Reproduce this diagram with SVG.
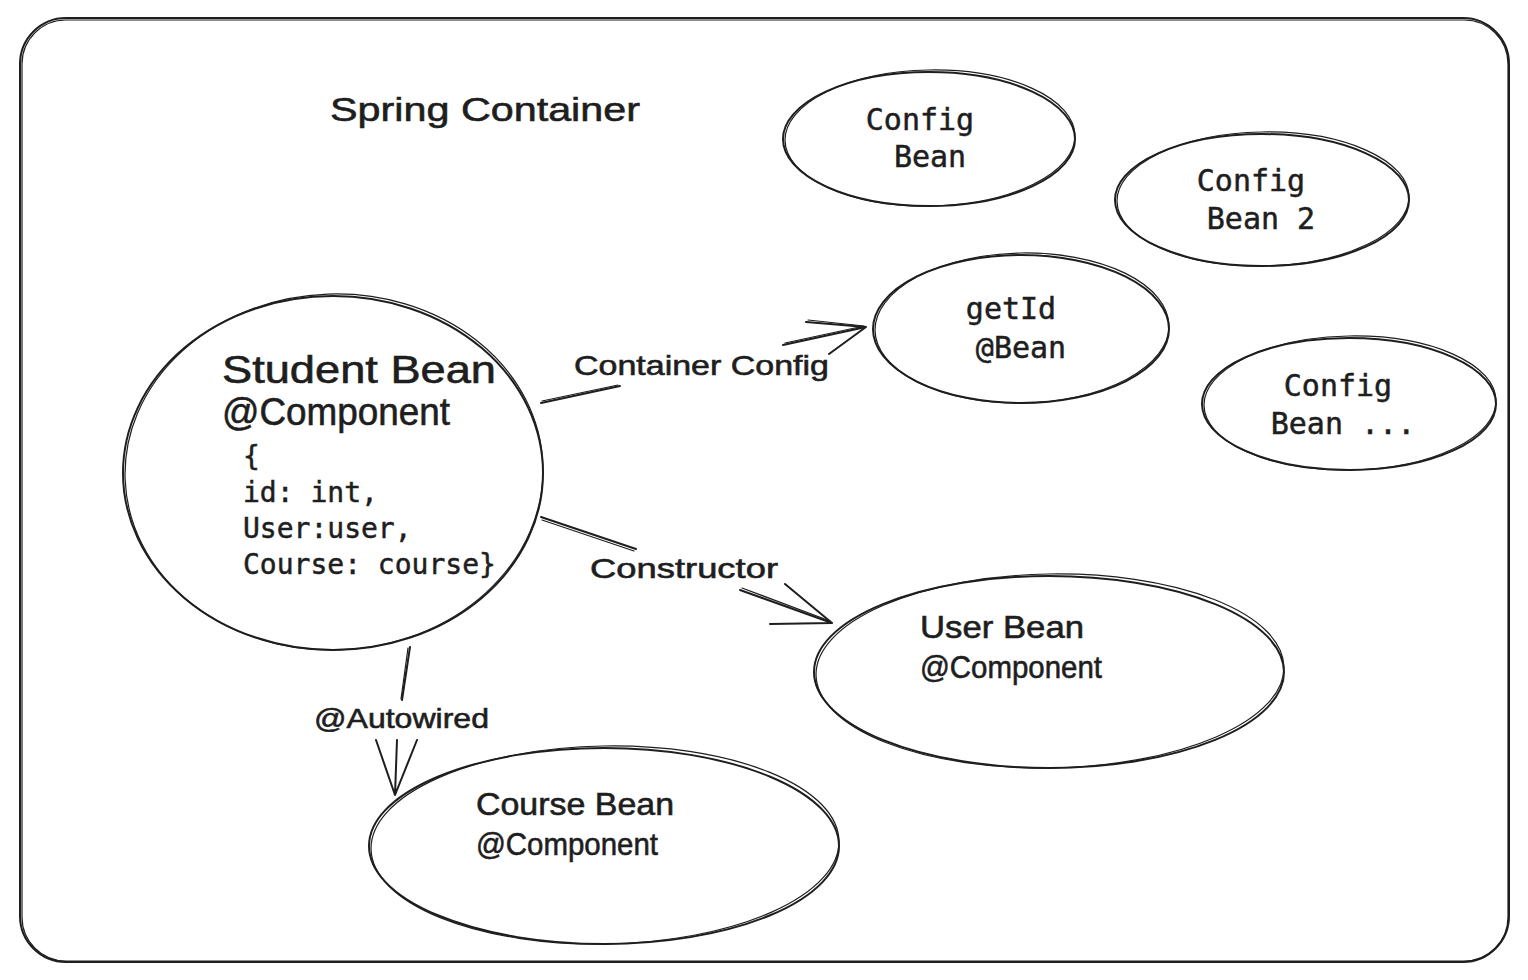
<svg xmlns="http://www.w3.org/2000/svg" width="1528" height="980" viewBox="0 0 1528 980">
<style>
.s{fill:none;stroke:#1e1e1e;stroke-width:2;stroke-linecap:round;stroke-linejoin:round}
.t{stroke-width:1.2}
.h{font-family:"Liberation Sans","DejaVu Sans",sans-serif;fill:#1e1e1e;stroke:#1e1e1e;stroke-width:0.6}
.m{font-family:"DejaVu Sans Mono","Liberation Mono",monospace;fill:#1e1e1e;stroke:#1e1e1e;stroke-width:0.5}
</style>
<rect width="1528" height="980" fill="#ffffff"/>
<g id="container">
<rect class="s" x="20" y="18" width="1489" height="944" rx="46" ry="46"/>
<rect class="s t" x="22" y="20" width="1486" height="941" rx="44" ry="44"/>
<text class="h" x="330" y="121" font-size="34" textLength="310" lengthAdjust="spacingAndGlyphs">Spring Container</text>
</g>
<g id="config-bean">
<ellipse class="s" cx="929" cy="139" rx="146" ry="67"/>
<ellipse class="s t" cx="930" cy="138" rx="145" ry="68" transform="rotate(-1 930 138)"/>
<text class="m" font-size="30" text-anchor="middle"><tspan x="920" y="130">Config</tspan><tspan x="930" y="167">Bean</tspan></text>
</g>
<g id="config-bean-2">
<ellipse class="s" cx="1262" cy="200" rx="147" ry="66"/>
<ellipse class="s t" cx="1263" cy="199" rx="146" ry="67" transform="rotate(-1 1263 199)"/>
<text class="m" font-size="30" text-anchor="middle"><tspan x="1251" y="191">Config</tspan><tspan x="1261" y="229">Bean 2</tspan></text>
</g>
<g id="getid-bean">
<ellipse class="s" cx="1021" cy="329" rx="148" ry="74"/>
<ellipse class="s t" cx="1022" cy="328" rx="147" ry="75" transform="rotate(-1 1022 328)"/>
<text class="m" font-size="30" text-anchor="middle"><tspan x="1011" y="319">getId</tspan><tspan x="1012" y="358"> @Bean</tspan></text>
</g>
<g id="config-bean-more">
<ellipse class="s" cx="1349" cy="404" rx="147" ry="66"/>
<ellipse class="s t" cx="1350" cy="403" rx="146" ry="67" transform="rotate(-1 1350 403)"/>
<text class="m" font-size="30" text-anchor="middle"><tspan x="1338" y="396">Config</tspan><tspan x="1343" y="434">Bean  ...</tspan></text>
</g>
<g id="student-bean">
<ellipse class="s" cx="333" cy="473" rx="210" ry="177"/>
<ellipse class="s t" cx="334" cy="472" rx="209" ry="178" transform="rotate(-2 334 472)"/>
<text class="h" x="222" y="383" font-size="38" textLength="274" lengthAdjust="spacingAndGlyphs">Student Bean</text>
<text class="h" x="222" y="425" font-size="38" textLength="228" lengthAdjust="spacingAndGlyphs">@Component</text>
<text class="m" font-size="28"><tspan x="243" y="466">{</tspan><tspan x="243" y="502">id: int,</tspan><tspan x="243" y="538">User:user,</tspan><tspan x="243" y="574">Course: course}</tspan></text>
</g>
<g id="user-bean">
<ellipse class="s" cx="1049" cy="672" rx="235" ry="96"/>
<ellipse class="s t" cx="1050" cy="671" rx="234" ry="97" transform="rotate(-1 1050 671)"/>
<text class="h" x="920" y="638" font-size="32" textLength="164" lengthAdjust="spacingAndGlyphs">User Bean</text>
<text class="h" x="920" y="678" font-size="32" textLength="182" lengthAdjust="spacingAndGlyphs">@Component</text>
</g>
<g id="course-bean">
<ellipse class="s" cx="604" cy="846" rx="235" ry="98"/>
<ellipse class="s t" cx="605" cy="845" rx="234" ry="99" transform="rotate(-1 605 845)"/>
<text class="h" x="476" y="815" font-size="32" textLength="198" lengthAdjust="spacingAndGlyphs">Course Bean</text>
<text class="h" x="476" y="855" font-size="32" textLength="182" lengthAdjust="spacingAndGlyphs">@Component</text>
</g>
<g id="connectors">
<path class="s" d="M541 403 L620 386 M783 345 L866 327 M806 322 L866 327 L829 354"/>
<path class="s t" d="M542 401 L618 385 M785 343 L864 326 M808 320 L864 326"/>
<text class="h" x="574" y="375" font-size="28" textLength="255" lengthAdjust="spacingAndGlyphs">Container Config</text>
<path class="s" d="M541 517 L636 549 M740 590 L832 623 M785 584 L832 623 L770 624"/>
<path class="s t" d="M542 520 L634 551 M742 588 L830 621"/>
<text class="h" x="590" y="578" font-size="28" textLength="188" lengthAdjust="spacingAndGlyphs">Constructor</text>
<path class="s" d="M410 647 L402 700 M397 740 L395 795 M376 740 L395 795 L417 740"/>
<path class="s t" d="M408 648 L401 699"/>
<text class="h" x="314" y="728" font-size="28" textLength="175" lengthAdjust="spacingAndGlyphs">@Autowired</text>
</g>
</svg>
